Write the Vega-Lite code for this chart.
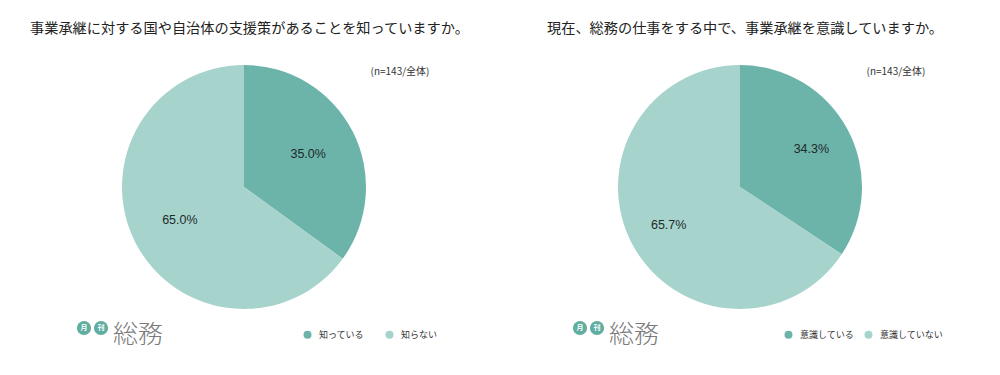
{
  "$schema": "https://vega.github.io/schema/vega-lite/v6.json",
  "padding": {"top": 19, "left": 0, "right": 0, "bottom": 0},
  "spacing": 8,
  "background": "white",
  "config": {
    "view": {"stroke": null},
    "font": "Noto Sans CJK JP",
    "title": {"fontSize": 14.2, "fontWeight": "normal", "color": "#222222", "anchor": "start", "offset": -17, "font": "Noto Sans CJK JP"},
    "legend": {"orient": "none", "direction": "horizontal", "symbolType": "circle", "symbolSize": 64, "symbolStrokeWidth": 0, "labelFontSize": 9, "labelColor": "#333333", "labelOffset": 7, "padding": 0, "labelFont": "Noto Sans CJK JP"}
  },
  "resolve": {"scale": {"color": "independent"}, "legend": {"color": "independent"}},
  "hconcat": [
    {
      "width": 488,
      "height": 336,
      "title": {"text": "事業承継に対する国や自治体の支援策があることを知っていますか。", "dx": 30},
      "data": {"values": [
        {"answer": "知っている", "value": 35.0, "label": "35.0%"},
        {"answer": "知らない", "value": 65.0, "label": "65.0%"}
      ]},
      "layer": [
        {
          "mark": {"type": "arc", "radius": 122},
          "encoding": {
            "theta": {"field": "value", "type": "quantitative", "stack": true},
            "order": {"field": "value", "sort": "ascending"},
            "color": {"field": "answer", "type": "nominal", "sort": ["知っている", "知らない"],
              "scale": {"domain": ["知っている", "知らない"], "range": ["#6cb3a9", "#a6d4cd"]},
              "legend": {"title": null, "legendX": 303, "legendY": 311, "columnPadding": 20}}
          }
        },
        {
          "mark": {"type": "text", "radius": 72, "fontSize": 12.5, "font": "Liberation Sans", "color": "#1f2a2a"},
          "encoding": {
            "theta": {"field": "value", "type": "quantitative", "stack": true},
            "order": {"field": "value", "sort": "ascending"},
            "text": {"field": "label"}
          }
        },
        {
          "data": {"values": [{"t": "(n=143/全体)"}]},
          "mark": {"type": "text", "x": 400, "y": 53, "fontSize": 10, "color": "#333333"},
          "encoding": {"text": {"field": "t"}}
        },
        {
          "data": {"values": [{"t": "月"}]},
          "layer": [
            {"mark": {"type": "point", "filled": true, "x": 84, "y": 309, "size": 200, "color": "#5fae9f", "opacity": 1}, "encoding": {}},
            {"mark": {"type": "text", "x": 84, "y": 309, "fontSize": 7, "color": "white", "fontWeight": "bold"}, "encoding": {"text": {"field": "t"}}}
          ]
        },
        {
          "data": {"values": [{"t": "刊"}]},
          "layer": [
            {"mark": {"type": "point", "filled": true, "x": 101, "y": 309, "size": 200, "color": "#5fae9f", "opacity": 1}, "encoding": {}},
            {"mark": {"type": "text", "x": 101, "y": 309, "fontSize": 7, "color": "white", "fontWeight": "bold"}, "encoding": {"text": {"field": "t"}}}
          ]
        },
        {
          "data": {"values": [{"t": "総務"}]},
          "mark": {"type": "text", "x": 113, "y": 316, "align": "left", "fontSize": 25, "fontWeight": 300, "color": "#7a7a7a"},
          "encoding": {"text": {"field": "t"}}
        }
      ]
    },
    {
      "width": 488,
      "height": 336,
      "title": {"text": "現在、総務の仕事をする中で、事業承継を意識していますか。", "dx": 51},
      "data": {"values": [
        {"answer": "意識している", "value": 34.3, "label": "34.3%"},
        {"answer": "意識していない", "value": 65.7, "label": "65.7%"}
      ]},
      "layer": [
        {
          "mark": {"type": "arc", "radius": 122},
          "encoding": {
            "theta": {"field": "value", "type": "quantitative", "stack": true},
            "order": {"field": "value", "sort": "ascending"},
            "color": {"field": "answer", "type": "nominal", "sort": ["意識している", "意識していない"],
              "scale": {"domain": ["意識している", "意識していない"], "range": ["#6cb3a9", "#a6d4cd"]},
              "legend": {"title": null, "legendX": 288, "legendY": 311, "columnPadding": 9}}
          }
        },
        {
          "mark": {"type": "text", "radius": 81, "fontSize": 12.5, "font": "Liberation Sans", "color": "#1f2a2a"},
          "encoding": {
            "theta": {"field": "value", "type": "quantitative", "stack": true},
            "order": {"field": "value", "sort": "ascending"},
            "text": {"field": "label"}
          }
        },
        {
          "data": {"values": [{"t": "(n=143/全体)"}]},
          "mark": {"type": "text", "x": 400, "y": 53, "fontSize": 10, "color": "#333333"},
          "encoding": {"text": {"field": "t"}}
        },
        {
          "data": {"values": [{"t": "月"}]},
          "layer": [
            {"mark": {"type": "point", "filled": true, "x": 84, "y": 309, "size": 200, "color": "#5fae9f", "opacity": 1}, "encoding": {}},
            {"mark": {"type": "text", "x": 84, "y": 309, "fontSize": 7, "color": "white", "fontWeight": "bold"}, "encoding": {"text": {"field": "t"}}}
          ]
        },
        {
          "data": {"values": [{"t": "刊"}]},
          "layer": [
            {"mark": {"type": "point", "filled": true, "x": 101, "y": 309, "size": 200, "color": "#5fae9f", "opacity": 1}, "encoding": {}},
            {"mark": {"type": "text", "x": 101, "y": 309, "fontSize": 7, "color": "white", "fontWeight": "bold"}, "encoding": {"text": {"field": "t"}}}
          ]
        },
        {
          "data": {"values": [{"t": "総務"}]},
          "mark": {"type": "text", "x": 113, "y": 316, "align": "left", "fontSize": 25, "fontWeight": 300, "color": "#7a7a7a"},
          "encoding": {"text": {"field": "t"}}
        }
      ]
    }
  ]
}
